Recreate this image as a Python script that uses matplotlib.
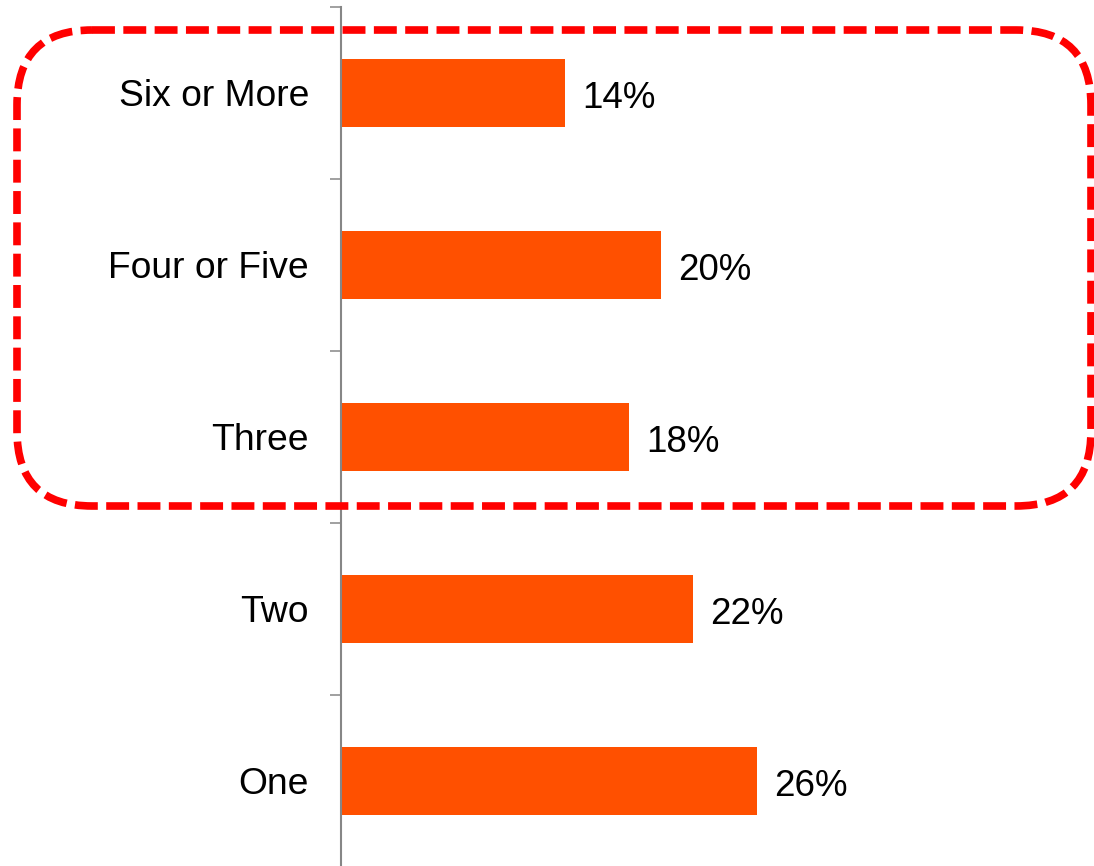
import numpy as np
import matplotlib.pyplot as plt
from matplotlib.patches import FancyBboxPatch

# data, top to bottom
categories = ["Six or More", "Four or Five", "Three", "Two", "One"]
values = [14, 20, 18, 22, 26]
value_labels = ["14%", "20%", "18%", "22%", "26%"]

plt.rcParams['font.family'] = ['Liberation Sans', 'DejaVu Sans']

W, H = 1094, 866
fig = plt.figure(figsize=(W / 100, H / 100), dpi=100)

# axes in pixel terms: zero line at x=341, category band from y=7 to y=867
xmax = 40
ax = fig.add_axes([341 / W, -1 / H, xmax * 16 / W, 860 / H])

pos = np.arange(len(categories))
ax.barh(pos, values, height=0.4, color="#FF5000")
ax.set_ylim(len(categories) - 0.5, -0.5)
ax.set_xlim(0, xmax)

for p, v, lab in zip(pos, values, value_labels):
    ax.text(v + 1.1, p + 0.03, lab, va="center", ha="left", fontsize=26.5)

ax.set_yticks(pos)
ax.set_yticklabels(categories, fontsize=26.8)
ax.tick_params(axis="y", which="major", length=0, pad=23)
ax.set_yticks(np.arange(-0.5, len(categories)), minor=True)
ax.tick_params(axis="y", which="minor", length=8, width=1.1, color="#868686")
ax.set_xticks([])
for s in ["top", "right", "bottom"]:
    ax.spines[s].set_visible(False)
ax.spines["left"].set_color("#868686")
ax.spines["left"].set_linewidth(1.5)

# red dashed rounded box around the top three categories
ov = fig.add_axes([0, 0, 1, 1], zorder=5)
ov.set_xlim(0, W)
ov.set_ylim(H, 0)
ov.axis("off")
ov.patch.set_alpha(0)
box = FancyBboxPatch((17, 30), 1074, 476,
                     boxstyle="round,pad=0,rounding_size=75",
                     fill=False, edgecolor="#FF0000", linewidth=5.5,
                     linestyle=(0, (3, 1.1)))
ov.add_patch(box)

plt.savefig("out.png", dpi=100)
